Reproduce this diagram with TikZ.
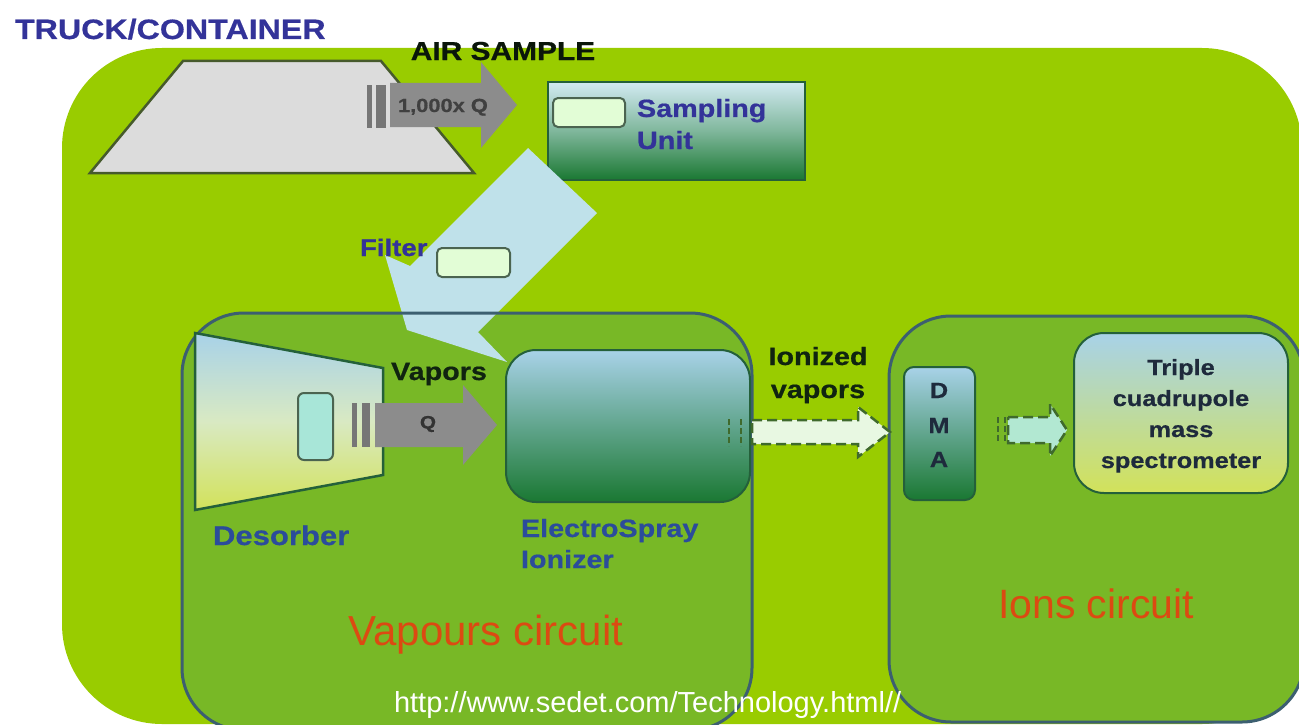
\documentclass[tikz,border=0pt]{standalone}
\usepackage{fontspec}
\setmainfont{Liberation Sans}
\newfontfamily\wide[FakeStretch=1.15,FakeBold=0.6]{Liberation Sans Bold}
\usetikzlibrary{calc}

\definecolor{bggreen}{HTML}{99CC00}
\definecolor{boxgreen}{HTML}{78B826}
\definecolor{boxline}{HTML}{3C5F70}
\definecolor{truckgray}{HTML}{DCDCDC}
\definecolor{truckline}{HTML}{465A2C}
\definecolor{filterblue}{HTML}{BFE1EA}
\definecolor{lightblue}{HTML}{A8D2E8}
\definecolor{sutop}{HTML}{D2EAF2}
\definecolor{darkgreen}{HTML}{1A7832}
\definecolor{ylgreen}{HTML}{D2E25A}
\definecolor{mint}{HTML}{E2FDD6}
\definecolor{aqua}{HTML}{A8E6D8}
\definecolor{arrowgray}{HTML}{8C8C8C}
\definecolor{bargray}{HTML}{767676}
\definecolor{navy}{HTML}{333399}
\definecolor{midblue}{HTML}{2B4C9B}
\definecolor{darktext}{HTML}{102410}
\definecolor{redtext}{HTML}{DC4A12}
\definecolor{dashgreen}{HTML}{3F6A2C}
\definecolor{palemint}{HTML}{E8F8E2}
\definecolor{paleaqua}{HTML}{B2E8D2}
\definecolor{innerline}{HTML}{4B6450}
\definecolor{unitline}{HTML}{24603A}
\definecolor{tripletext}{HTML}{1E2A3C}

\newcommand\barrow[7]{\path[#7] (#1,#4-#5) -- (#2,#4-#5) -- (#2,#4-#6) -- (#3,#4) -- (#2,#4+#6) -- (#2,#4+#5) -- (#1,#4+#5) -- cycle;}

\tikzset{
  box/.style={anchor=north west, inner sep=0pt, outer sep=0pt},
  circuitfill/.style={box, fill=boxgreen, rounded corners=62pt},
  circuitline/.style={box, draw=boxline, line width=3pt, rounded corners=62pt},
  unitbox/.style={box, draw=unitline, line width=2pt},
  smallbox/.style={box, draw=innerline, line width=2pt, rounded corners=5pt},
  graybar/.style={fill=bargray},
  grayarrow/.style={fill=arrowgray},
  dasharrow/.style={draw=dashgreen, line width=2.5pt, dash pattern=on 10pt off 5pt},
  dashbar/.style={draw=dashgreen, line width=2.5pt, dash pattern=on 6pt off 3pt},
  lbl/.style={inner sep=0pt, outer sep=0pt},
  bluelbl/.style={lbl, text=navy, font=\wide\fontsize{25}{30}\selectfont},
  esilbl/.style={lbl, text=midblue, font=\wide\fontsize{25}{30}\selectfont},
  darklbl/.style={lbl, text=darktext, font=\wide\fontsize{25}{30}\selectfont},
  triplbl/.style={lbl, anchor=base, text=tripletext, font=\wide\fontsize{22}{26}\selectfont},
  redlbl/.style={lbl, text=redtext, font=\fontsize{42}{48}\selectfont},
}

\begin{document}
\begin{tikzpicture}[x=1pt,y=-1pt]
\useasboundingbox (0,0) rectangle (1299,725);
\clip (0,0) rectangle (1299,725);
\fill[white] (0,0) rectangle (1299,725);

% container background
\node[box, fill=bggreen, rounded corners=100pt, minimum width=1240pt, minimum height=676pt] (container) at (62,48) {};

% truck
\draw[fill=truckgray, draw=truckline, line width=2.5pt] (183,61) -- (381,61) -- (474,173) -- (90,173) -- cycle;
\node[lbl, anchor=base west, text=navy, font=\wide\fontsize{28}{32}\selectfont] (truck) at (15,39) {TRUCK/CONTAINER};
\node[lbl, anchor=base, text=darktext!60!black, font=\wide\fontsize{26}{30}\selectfont] (air) at (503,60) {AIR SAMPLE};

% air sample arrow
\fill[graybar] (367,85) rectangle (372,128);
\fill[graybar] (376,85) rectangle (386,128);
\barrow{390}{481}{517}{105}{22}{43}{grayarrow}
\node[lbl, anchor=base west, text=black!75, font=\wide\fontsize{19}{22}\selectfont] (airq) at (398,112) {1,000x Q};

% sampling unit
\node[unitbox, minimum width=257pt, minimum height=98pt, top color=sutop, bottom color=darkgreen, middle color=sutop!55!darkgreen] (su) at (548,82) {};
\node[smallbox, fill=mint, minimum width=72pt, minimum height=29pt] (suin) at (553,98) {};
\node[bluelbl, anchor=base west] (sul1) at (637,117) {Sampling};
\node[bluelbl, anchor=base west] (sul2) at (637,149) {Unit};

% circuits (fills)
\node[circuitfill, minimum width=570pt, minimum height=417pt] (vapfill) at (182,313) {};
\node[circuitfill, minimum width=415pt, minimum height=406pt] (ionfill) at (889,316) {};

% filter band
\path[fill=filterblue] (528,148) -- (597,213) -- (478,332) -- (507,362) -- (407,330) -- (385,255) -- (410,266) -- cycle;

% circuit borders
\node[circuitline, minimum width=570pt, minimum height=417pt] (vap) at (182,313) {};
\node[circuitline, minimum width=415pt, minimum height=406pt] (ion) at (889,316) {};

\node[smallbox, fill=mint, minimum width=73pt, minimum height=29pt] (filterbox) at (437,248) {};
\node[bluelbl, anchor=base west, font=\wide\fontsize{24}{28}\selectfont] (filter) at (360,256) {Filter};

% desorber
\draw[top color=lightblue, bottom color=ylgreen, middle color=lightblue!45!ylgreen!60!white, draw=unitline, line width=2.5pt] (195,333) -- (383,368) -- (383,475) -- (195,510) -- cycle;
\node[smallbox, fill=aqua, rounded corners=6pt, minimum width=35pt, minimum height=67pt] (desin) at (298,393) {};
\fill[graybar] (352,403) rectangle (357,447);
\fill[graybar] (362,403) rectangle (370,447);
\barrow{375}{463}{497}{425}{22}{40}{grayarrow}
\node[lbl, text=black!80, font=\wide\fontsize{18}{20}\selectfont] (q) at (428,424) {Q};
\node[darklbl, anchor=base] (vapors) at (439,380) {Vapors};
\node[esilbl, anchor=base west, font=\wide\fontsize{27}{30}\selectfont] (des) at (213,545) {Desorber};

% electrospray ionizer
\node[box, draw=unitline, line width=2pt, rounded corners=30pt, minimum width=244pt, minimum height=152pt, top color=lightblue, bottom color=darkgreen] (esi) at (506,350) {};
\node[esilbl, anchor=base west] (esil1) at (521,537) {ElectroSpray};
\node[esilbl, anchor=base west] (esil2) at (521,568) {Ionizer};

% ionized vapors arrow
\barrow{752}{858}{890}{432}{12}{25}{dasharrow, fill=palemint}
\draw[dashbar] (729,419) -- (729,446);
\draw[dashbar] (741,419) -- (741,446);
\node[darklbl, anchor=base] (ion1) at (818,365) {Ionized};
\node[darklbl, anchor=base] (ion2) at (818,398) {vapors};

% DMA
\node[box, draw=unitline, line width=2pt, rounded corners=10pt, minimum width=71pt, minimum height=133pt, top color=lightblue, bottom color=darkgreen] (dma) at (904,367) {};
\node[triplbl] (dmad) at (939,398) {D};
\node[triplbl] (dmam) at (939,433) {M};
\node[triplbl] (dmaa) at (939,467) {A};

% DMA -> triple arrow
\barrow{1008}{1050}{1067}{430}{13}{26}{dasharrow, fill=paleaqua}
\draw[dashbar] (998,417) -- (998,444);
\draw[dashbar] (1005,417) -- (1005,444);

% triple quadrupole
\node[box, draw=unitline, line width=2pt, rounded corners=30pt, minimum width=214pt, minimum height=160pt, top color=lightblue, bottom color=ylgreen] (tq) at (1074,333) {};
\node[triplbl] (tq1) at (1181,375) {Triple};
\node[triplbl] (tq2) at (1181,406) {cuadrupole};
\node[triplbl] (tq3) at (1181,437) {mass};
\node[triplbl] (tq4) at (1181,468) {spectrometer};

% circuit labels
\node[redlbl, anchor=base] (vapc) at (486,645) {Vapours circuit};
\node[redlbl, anchor=base west, font=\fontsize{41}{46}\selectfont] (ionc) at (998,618) {Ions circuit};

% source
\node[lbl, anchor=base west, text=white, font=\fontsize{29}{32}\selectfont] (url) at (394,712) {http://www.sedet.com/Technology.html//};
\end{tikzpicture}
\end{document}
